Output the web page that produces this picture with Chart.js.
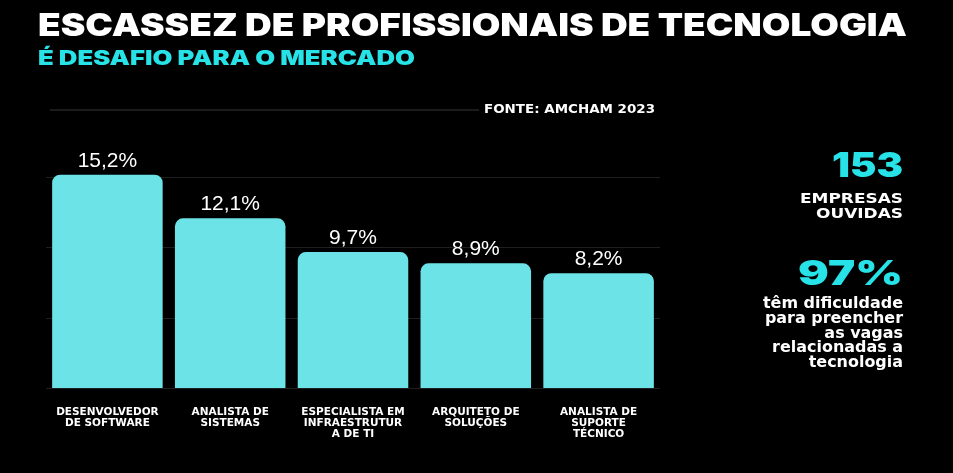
<!DOCTYPE html>
<html>
<head>
<meta charset="utf-8">
<script src="https://cdn.jsdelivr.net/npm/chart.js@4.4.1/dist/chart.umd.min.js"></script>
<style>
  html, body { margin: 0; padding: 0; background: #000; overflow: hidden; }
  #wrap { position: absolute; left: 0; top: 0; width: 953px; height: 473px; }
</style>
</head>
<body>
<div id="wrap"><canvas id="vagasChart"></canvas></div>
<script>
// Escassez de profissionais de tecnologia (Amcham 2023)

const categories = [
    ['DESENVOLVEDOR', 'DE SOFTWARE'],
    ['ANALISTA DE', 'SISTEMAS'],
    ['ESPECIALISTA EM', 'INFRAESTRUTUR', 'A DE TI'],
    ['ARQUITETO DE', 'SOLUÇÕES'],
    ['ANALISTA DE', 'SUPORTE', 'TÉCNICO']
];
const shortage = [15.2, 12.1, 9.7, 8.9, 8.2];
const gridTicks = [0, 5, 10, 15];

const titleText = 'ESCASSEZ DE PROFISSIONAIS DE TECNOLOGIA';
const subtitleText = 'É DESAFIO PARA O MERCADO';
const sourceText = 'FONTE: AMCHAM 2023';
const companiesValue = '153';
const companiesLabel = ['EMPRESAS', 'OUVIDAS'];
const difficultyValue = '97%';
const difficultyLabel = ['têm dificuldade', 'para preencher', 'as vagas', 'relacionadas a', 'tecnologia'];

const CYAN = '#27e3e8';
const BAR = '#6be3e7';
const BOLD = '"DejaVu Sans", sans-serif';
const HEAVY = 'Inter, Roboto, sans-serif';

function fmt(v) {
    return v.toFixed(1).replace('.', ',') + '%';
}

// draw text, optionally squeezed/stretched to a given width
function txt(ctx, s, x, y, font, color, align, width) {
    ctx.save();
    ctx.font = font;
    ctx.fillStyle = color;
    ctx.textBaseline = 'alphabetic';
    ctx.textAlign = 'left';
    const w = ctx.measureText(s).width;
    const k = width ? width / w : 1;
    let left = x;
    if (align === 'right') left = x - w * k;
    ctx.translate(left, y);
    ctx.scale(k, 1);
    ctx.fillText(s, 0, 0);
    ctx.restore();
}

// right aligned block, one horizontal scale for every line
function block(ctx, lines, right, y0, step, font, color, widest) {
    ctx.save();
    ctx.font = font;
    const maxW = Math.max(...lines.map(l => ctx.measureText(l).width));
    ctx.restore();
    const k = widest / maxW;
    lines.forEach((l, i) => {
        ctx.save();
        ctx.font = font;
        const w = ctx.measureText(l).width * k;
        ctx.restore();
        txt(ctx, l, right, y0 + i * step, font, color, 'right', w);
    });
}

const valueLabels = {
    id: 'valueLabels',
    afterDatasetsDraw(chart) {
        const ctx = chart.ctx;
        const meta = chart.getDatasetMeta(0);
        ctx.save();
        ctx.font = '21px "Liberation Sans", Arial, sans-serif';
        ctx.fillStyle = '#ffffff';
        ctx.textAlign = 'center';
        ctx.textBaseline = 'alphabetic';
        meta.data.forEach((bar, i) => {
            ctx.fillText(fmt(shortage[i]), bar.x, bar.y - 8);
        });
        ctx.restore();
    }
};

const headerAndPanel = {
    id: 'headerAndPanel',
    afterDraw(chart) {
        const ctx = chart.ctx;
        txt(ctx, titleText, 38, 36, '900 32px ' + HEAVY, '#ffffff', 'left', 869);
        txt(ctx, subtitleText, 38, 65, '900 20px ' + HEAVY, CYAN, 'left', 377);

        ctx.save();
        ctx.strokeStyle = '#1c1c1c';
        ctx.lineWidth = 2;
        ctx.beginPath();
        ctx.moveTo(50, 110);
        ctx.lineTo(479, 110);
        ctx.stroke();
        ctx.restore();
        txt(ctx, sourceText, 484, 113, 'bold 13px ' + BOLD, '#ffffff', 'left', 171);

        txt(ctx, companiesValue, 903, 177, '900 34px ' + HEAVY, CYAN, 'right', 71);
        block(ctx, companiesLabel, 903, 203, 14.5, 'bold 14px ' + BOLD, '#ffffff', 103);
        txt(ctx, difficultyValue, 903, 285, '900 34px ' + HEAVY, CYAN, 'right', 105);
        block(ctx, difficultyLabel, 903, 308, 14.8, 'bold 15px ' + BOLD, '#ffffff', 140);
    }
};

new Chart(document.getElementById('vagasChart'), {
    type: 'bar',
    data: {
        labels: categories,
        datasets: [{
            data: shortage,
            backgroundColor: BAR,
            borderRadius: 8,
            borderSkipped: 'start',
            barPercentage: 0.9,
            categoryPercentage: 1.0
        }]
    },
    options: {
        responsive: true,
        maintainAspectRatio: false,
        animation: false,
        layout: {
            padding: { left: 46, right: 293, top: 163.5, bottom: 22.5 }
        },
        scales: {
            x: {
                grid: { display: false },
                border: { display: false },
                ticks: {
                    color: '#ffffff',
                    font: { family: BOLD, size: 10.5, weight: 'bold', lineHeight: 1.05 },
                    padding: 10.5,
                    maxRotation: 0,
                    autoSkip: false
                }
            },
            y: {
                min: 0,
                max: 16,
                border: { display: false },
                grid: {
                    color: '#1f1f1f',
                    lineWidth: 1,
                    drawTicks: false
                },
                afterBuildTicks(scale) {
                    scale.ticks = gridTicks.map(v => ({ value: v }));
                },
                ticks: { display: false }
            }
        },
        plugins: {
            legend: { display: false },
            tooltip: { enabled: false }
        }
    },
    plugins: [valueLabels, headerAndPanel]
});
</script>
</body>
</html>
